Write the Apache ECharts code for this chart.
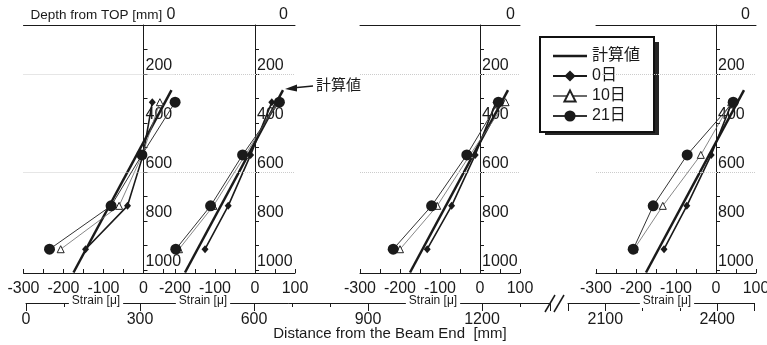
<!DOCTYPE html>
<html>
<head>
<meta charset="utf-8">
<script src="https://cdn.jsdelivr.net/npm/echarts@6/dist/echarts.min.js"></script>
<style>
  html, body { margin: 0; padding: 0; background: #fff; }
  #chart { width: 767px; height: 345px; }
</style>
</head>
<body>
<div id="chart"></div>
<script>
// measuring depths (mm from top) shared by every section
const depths = [315, 530, 738, 915];
// calculated strain profile: two end points [strain, depth]
const calcStrain = [70, -175];
const calcDepth = [266, 1010];
// measured strain per section (300, 600, 1200, 2400 mm from beam end)
const day0 = [[22, -1, -40, -145], [42, -11, -67, -125], [40, -12, -71, -132], [40, -12, -73, -130]];
const day10 = [[41, -3, -61, -207], [56, -24, -104, -190], [64, -25, -107, -200], [38, -38, -133, -205]];
const day21 = [[79, -4, -81, -235], [61, -31, -111, -198], [46, -33, -121, -217], [43, -72, -157, -207]];
const seriesNames = ['計算値', '0日', '10日', '21日'];
// strain axis range of each small plot
const strainMin = [-300, -200, -300, -300];
const strainMax = [80, 100, 100, 100];

// layout
const FONT = '"Liberation Sans", "Noto Sans CJK JP", Arial, sans-serif';
const INK = '#1a1a1a';
const pxPerStrain = 0.4;
const zeroX = [143.5, 255, 480, 716];
const topNameGap = [0, -7, -5, -6];

const grids = [], xAxes = [], yAxes = [], series = [];

for (let i = 0; i < 4; i++) {
  const left = zeroX[i] + strainMin[i] * pxPerStrain;
  grids.push({ left: left, top: 25, width: (strainMax[i] - strainMin[i]) * pxPerStrain, height: 248, outerBoundsMode: 'none' });
  xAxes.push({
    gridIndex: i, type: 'value', min: strainMin[i], max: strainMax[i], interval: 50, position: 'bottom',
    axisLine: { show: true, onZero: false, lineStyle: { color: INK, width: 1 } },
    axisTick: { show: true, inside: true, length: 4, lineStyle: { color: INK } },
    axisLabel: {
      fontSize: 16, color: INK, fontFamily: FONT, margin: 8,
      formatter: v => (v % 100 === 0 && (i > 0 || v <= 0)) ? String(v) : ''
    },
    splitLine: { show: false }
  });
  const topAxis = {
    gridIndex: i, type: 'value', min: strainMin[i], max: strainMax[i], position: 'top',
    axisLine: { show: true, onZero: false, lineStyle: { color: INK, width: 1 } },
    axisTick: { show: false }, axisLabel: { show: false }, splitLine: { show: false },
    name: '0', nameLocation: 'end', nameGap: topNameGap[i],
    nameTextStyle: { fontSize: 16, color: INK, fontFamily: FONT, align: 'right', verticalAlign: 'bottom', padding: [0, 0, 2, 0] }
  };
  if (i === 0) {
    topAxis.name = '{a|Depth from TOP [mm]} {b|0}';
    topAxis.nameTextStyle.rich = {
      a: { fontSize: 13.5, color: INK, fontFamily: FONT },
      b: { fontSize: 16, color: INK, fontFamily: FONT }
    };
  }
  xAxes.push(topAxis);
  // depth axis drawn on the zero-strain line (shifted inwards from the grid's left edge)
  yAxes.push({
    gridIndex: i, type: 'value', inverse: true, min: 0, max: 1012, interval: 100,
    offset: strainMin[i] * pxPerStrain,
    axisLine: { show: true, onZero: false, lineStyle: { color: INK, width: 1 } },
    axisTick: { show: true, inside: true, length: 4, lineStyle: { color: INK } },
    axisLabel: {
      inside: true, margin: 2, fontSize: 16, color: INK, fontFamily: FONT, verticalAlign: 'bottom',
      formatter: v => (v > 0 && v % 200 === 0) ? String(v) : ''
    },
    splitLine: { show: false }
  });

  const xi = i * 2, yi = i;
  series.push({
    type: 'line', name: seriesNames[0], xAxisIndex: xi, yAxisIndex: yi,
    data: calcStrain.map((s, k) => [s, calcDepth[k]]),
    symbol: 'none', lineStyle: { color: INK, width: 2.5 }, itemStyle: { color: INK },
    clip: false, z: 2,
    markLine: {
      silent: true, symbol: 'none', label: { show: false },
      lineStyle: { type: 'dotted', color: '#cccccc', width: 1 },
      data: [{ yAxis: 200 }, { yAxis: 600 }]
    }
  });
  series.push({
    type: 'line', name: seriesNames[1], xAxisIndex: xi, yAxisIndex: yi,
    data: day0[i].map((s, k) => [s, depths[k]]),
    symbol: 'diamond', symbolSize: [7, 8],
    lineStyle: { color: INK, width: 1.6 }, itemStyle: { color: INK }, clip: false, z: 3
  });
  series.push({
    type: 'line', name: seriesNames[2], xAxisIndex: xi, yAxisIndex: yi,
    data: day10[i].map((s, k) => [s, depths[k]]),
    symbol: 'triangle', symbolSize: 7,
    lineStyle: { color: '#6a6a6a', width: 0.8 },
    itemStyle: { color: '#fff', borderColor: '#222', borderWidth: 1 }, clip: false, z: 4
  });
  series.push({
    type: 'line', name: seriesNames[3], xAxisIndex: xi, yAxisIndex: yi,
    data: day21[i].map((s, k) => [s, depths[k]]),
    symbol: 'circle', symbolSize: 11,
    lineStyle: { color: '#333', width: 1 }, itemStyle: { color: INK }, clip: false, z: 5
  });
}

// distance-from-beam-end axis, broken between 1380 and 2000 mm
grids.push({ left: 26, top: 298, width: 1380 * 0.38, height: 5, outerBoundsMode: 'none' });
grids.push({ left: 568, top: 298, width: 500 * 0.373, height: 5, outerBoundsMode: 'none' });
const distAxis = (g, min, max, interval, minor) => ({
  gridIndex: g, type: 'value', min: min, max: max, interval: interval, position: 'bottom',
  axisLine: { show: true, onZero: false, lineStyle: { color: INK, width: 1 } },
  axisTick: { show: true, length: 8, lineStyle: { color: INK } },
  minorTick: { show: minor, splitNumber: 3, length: 4, lineStyle: { color: INK } },
  axisLabel: { fontSize: 16, color: INK, fontFamily: FONT, margin: 9, formatter: v => v % 300 === 0 ? String(v) : '' },
  splitLine: { show: false }
});
xAxes.push(distAxis(4, 0, 1380, 300, true));
xAxes.push(distAxis(5, 2000, 2500, 100, false));
yAxes.push({ gridIndex: 4, type: 'value', show: false });
yAxes.push({ gridIndex: 5, type: 'value', show: false });

const strainLabelX = [96, 203, 433, 667];
const graphics = strainLabelX.map(x => ({
  type: 'text', x: x, y: 301, z: 100,
  style: { text: 'Strain [μ]', font: '12px ' + FONT, fill: INK, align: 'center', verticalAlign: 'middle', backgroundColor: '#fff', padding: [1, 3] }
}));
graphics.push(
  // hard shadow behind the legend box
  { type: 'rect', z: 1, shape: { x: 545, y: 42, width: 114, height: 93 }, style: { fill: '#262626' } },
  { type: 'text', x: 390, y: 334, style: { text: 'Distance from the Beam End  [mm]', font: '15px ' + FONT, fill: INK, align: 'center', verticalAlign: 'middle' } },
  { type: 'line', shape: { x1: 545, y1: 312, x2: 555, y2: 295 }, style: { stroke: INK, lineWidth: 1.5 } },
  { type: 'line', shape: { x1: 554, y1: 312, x2: 564, y2: 295 }, style: { stroke: INK, lineWidth: 1.5 } },
  { type: 'text', x: 316, y: 86, style: { text: '計算値', font: '15px ' + FONT, fill: INK, align: 'left', verticalAlign: 'middle' } },
  { type: 'line', shape: { x1: 313, y1: 86, x2: 292, y2: 88 }, style: { stroke: INK, lineWidth: 1.5 } },
  { type: 'polygon', shape: { points: [[285, 89], [297, 84.5], [297, 91.5]] }, style: { fill: INK } }
);

// plain line icon for the calculated profile (tiny corner points fix the box to 34x14)
const lineIcon = 'path://M0,0L0.01,0L0,0.01Z M0,5.8L34,5.8L34,8.2L0,8.2Z M34,14L33.99,14L34,13.99Z';

const chart = echarts.init(document.getElementById('chart'));
chart.setOption({
  backgroundColor: '#fff',
  animation: false,
  textStyle: { fontFamily: FONT },
  legend: {
    data: [{ name: seriesNames[0], icon: lineIcon }, seriesNames[1], seriesNames[2], seriesNames[3]],
    orient: 'vertical', left: 540, top: 37,
    itemWidth: 34, itemHeight: 14, itemGap: 4, padding: [11, 14, 8, 12],
    backgroundColor: '#fff', borderColor: '#111', borderWidth: 2, z: 5,
    selectedMode: false,
    textStyle: { fontSize: 16, color: INK, fontFamily: FONT }
  },
  grid: grids,
  xAxis: xAxes,
  yAxis: yAxes,
  series: series,
  graphic: graphics
});
</script>
</body>
</html>
